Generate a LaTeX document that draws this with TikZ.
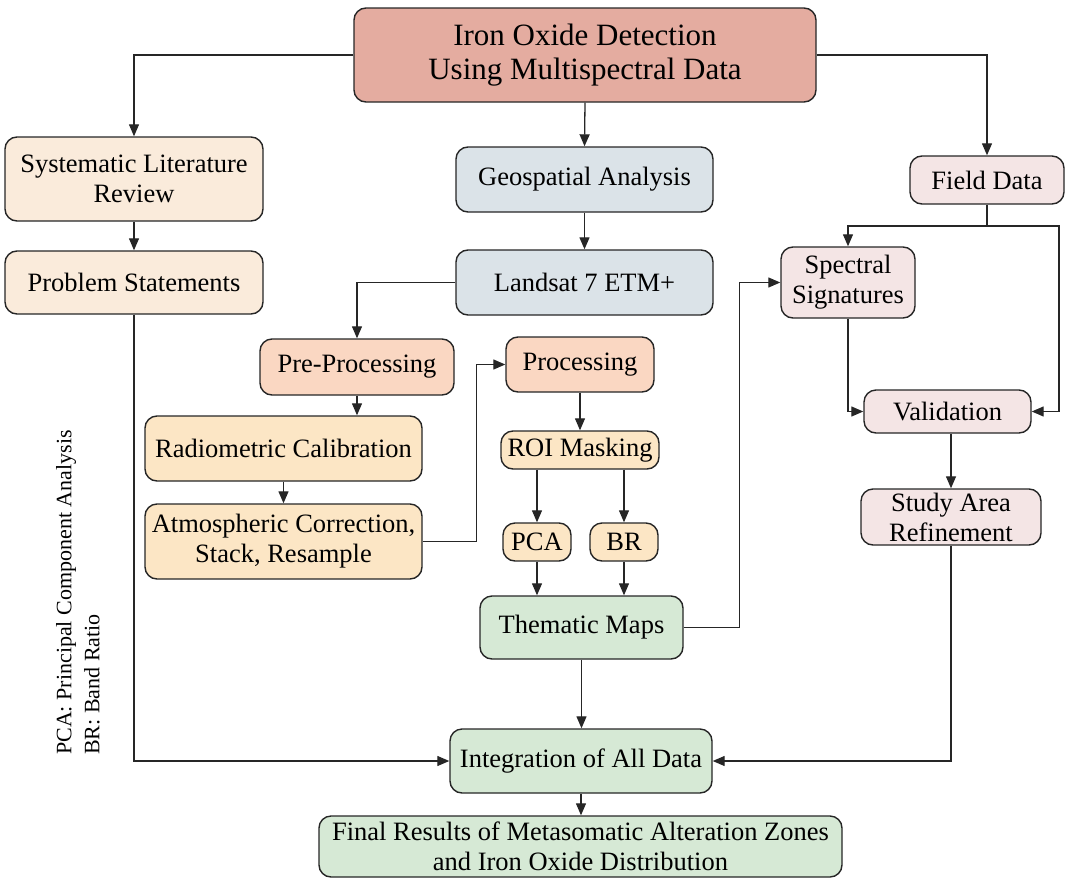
\documentclass[tikz,border=0pt]{standalone}
\usepackage{fontspec}
\setmainfont{Liberation Serif}
\newfontfamily\tnr{Liberation Serif}
\usetikzlibrary{arrows.meta,calc}
\definecolor{ctitle}{HTML}{E4ACA0}
\definecolor{cbeige}{HTML}{FAEBDB}
\definecolor{cblue}{HTML}{DBE3E8}
\definecolor{cpink}{HTML}{F4E5E5}
\definecolor{cpeach}{HTML}{FAD7C2}
\definecolor{corange}{HTML}{FCE6C5}
\definecolor{cgreen}{HTML}{D6E9D5}
\definecolor{cline}{HTML}{262626}
\tikzset{
  box/.style={draw=cline, line width=1.4pt, rounded corners=12pt, align=center,
    inner sep=0pt, font=\tnr\fontsize{26.5}{30}\selectfont},
  arr/.style={draw=cline, line width=1.3pt, -{Triangle[length=12pt,width=10pt]}},
  ln/.style={draw=cline, line width=1.3pt},
}
\newcommand{\bx}[7]{\node[box, fill=#7, minimum width=#4pt, minimum height=#5pt] (#1) at (#2pt,-#3pt) {#6};}
\begin{document}
\begin{tikzpicture}[x=1pt,y=1pt]
\useasboundingbox (0,0) rectangle (1065,-878);
\node[box, fill=ctitle, minimum width=462pt, minimum height=94pt, font=\tnr\fontsize{31}{34}\selectfont] (title) at (585pt,-55pt) {Iron Oxide Detection\\Using Multispectral Data};
\bx{slr}{134}{179}{258}{84}{Systematic Literature\\Review}{cbeige}
\bx{prob}{134}{282.5}{258}{63}{Problem Statements}{cbeige}
\bx{geo}{584.5}{179.5}{257}{65}{Geospatial Analysis}{cblue}
\bx{land}{584.5}{282.5}{257}{65}{Landsat 7 ETM+}{cblue}
\bx{field}{987}{180}{154}{48}{Field Data}{cpink}
\bx{spec}{848}{282.5}{134}{71}{Spectral\\Signatures}{cpink}
\bx{pre}{357}{367}{194}{56}{Pre-Processing}{cpeach}
\bx{proc}{580}{364.5}{148}{55}{Processing}{cpeach}
\bx{radio}{283.5}{448.5}{277}{65}{Radiometric Calibration}{corange}
\bx{atmo}{283.5}{541.5}{277}{75}{Atmospheric Correction,\\Stack, Resample}{corange}
\bx{roi}{580}{450}{158}{38}{ROI Masking}{corange}
\bx{pca}{537}{542}{68}{38}{PCA}{corange}
\bx{br}{624}{542}{68}{38}{BR}{corange}
\bx{them}{581.5}{627.5}{203}{63}{Thematic Maps}{cgreen}
\bx{val}{947.5}{411.5}{167}{43}{Validation}{cpink}
\bx{study}{951}{517}{180}{56}{Study Area\\Refinement}{cpink}
\bx{integ}{581}{761}{262}{64}{Integration of All Data}{cgreen}
\bx{final}{580.5}{846.5}{523}{61}{Final Results of Metasomatic Alteration Zones\\and Iron Oxide Distribution}{cgreen}
\node[rotate=90, anchor=north west, align=left, inner sep=0pt,
  font=\tnr\fontsize{22}{28}\selectfont] (legend) at (56pt,-755pt)
  {PCA: Principal Component Analysis\\BR: Band Ratio};
% connectors
\draw[arr] (title.west) -| (slr.north);
\draw[arr] (title.east) -| (field.north);
\draw[arr] (title.south) -- (geo.north);
\draw[arr] (slr.south) -- (prob.north);
\draw[arr] (geo.south) -- (land.north);
\draw[arr] (prob.south) |- (integ.west);
\draw[arr] (land.west) -| (pre.north);
\draw[arr] (pre.south) -- (pre.south |- radio.north);
\draw[arr] (radio.south) -- (atmo.north);
\draw[arr] (atmo.east) -- ++(54pt,0) |- (proc.west);
\draw[arr] (proc.south) -- (roi.north);
\draw[arr] (pca.north |- roi.south) -- (pca.north);
\draw[arr] (br.north |- roi.south) -- (br.north);
\draw[arr] (pca.south) -- (pca.south |- them.north);
\draw[arr] (br.south) -- (br.south |- them.north);
\draw[arr] (them.east) -- ++(56pt,0) |- (spec.west);
\coordinate (fj) at (987pt,-226pt);
\coordinate (fr) at (1059pt,-226pt);
\draw[ln] (field.south) -- (fj);
\draw[arr] (fj) -| (spec.north);
\draw[arr] (fj) -- (fr) |- (val.east);
\draw[arr] (spec.south) |- (val.west);
\draw[arr] (study.north |- val.south) -- (study.north);
\draw[arr] (study.south) |- (integ.east);
\draw[arr] (them.south) -- (them.south |- integ.north);
\draw[arr] (integ.south) -- (integ.south |- final.north);
\end{tikzpicture}
\end{document}
